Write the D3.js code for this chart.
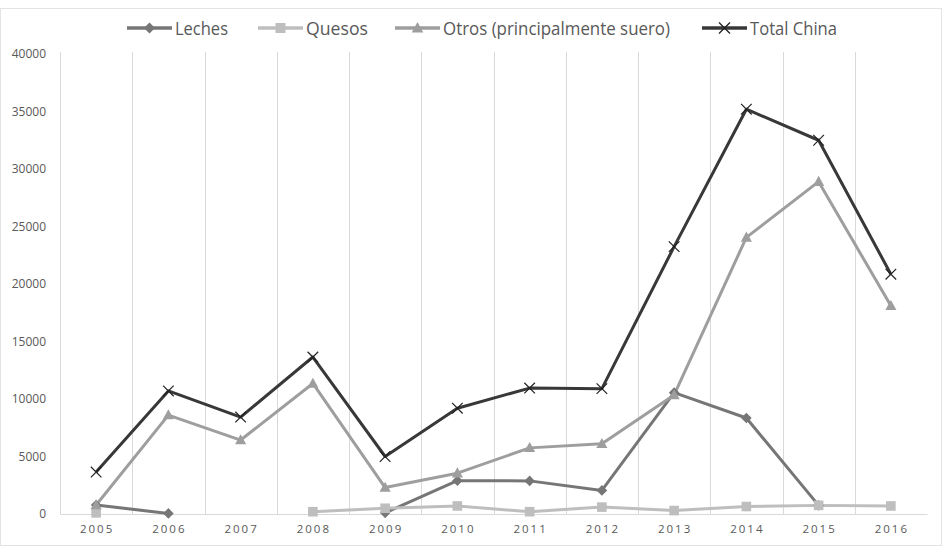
<!DOCTYPE html>
<html>
<head>
<meta charset="utf-8">
<script src="https://cdn.jsdelivr.net/npm/d3@7"></script>
<style>
  html, body { margin: 0; padding: 0; background: #fff; }
  svg { display: block; }
</style>
</head>
<body>
<svg id="chart" width="942" height="546"></svg>
<script>
const years = ["2005","2006","2007","2008","2009","2010","2011","2012","2013","2014","2015","2016"];
const leches = [780, 50, null, null, 100, 2900, 2880, 2050, 10550, 8350, 750, null];
const quesos = [100, null, null, 200, 500, 700, 200, 600, 300, 650, 750, 700];
const otros = [780, 8600, 6430, 11350, 2300, 3550, 5750, 6100, 10350, 24050, 28900, 18100];
const totalChina = [3650, 10700, 8430, 13650, 5000, 9200, 10950, 10900, 23250, 35200, 32500, 20850];
const yTicks = [0, 5000, 10000, 15000, 20000, 25000, 30000, 35000, 40000];
const seriesNames = ["Leches", "Quesos", "Otros (principalmente suero)", "Total China"];

const series = [
  { name: seriesNames[0], values: leches, color: "#767676", marker: "diamond" },
  { name: seriesNames[1], values: quesos, color: "#BEBEBE", marker: "square" },
  { name: seriesNames[2], values: otros, color: "#9E9E9E", marker: "triangle" },
  { name: seriesNames[3], values: totalChina, color: "#383838", marker: "x" }
];

const svg = d3.select("#chart");
const plotLeft = 60, plotRight = 927, plotTop = 54, plotBottom = 514;

// outer border
svg.append("rect").attr("x", 0.5).attr("y", 8.5).attr("width", 941).attr("height", 537)
  .attr("fill", "none").attr("stroke", "#e3e3e3").attr("stroke-width", 1);

const x = d3.scaleBand().domain(years).range([plotLeft, plotRight]);
const y = d3.scaleLinear().domain([0, 40000]).range([plotBottom, plotTop]);
const cx = d => x(d) + x.bandwidth() / 2;

// vertical gridlines at category boundaries
svg.append("g").selectAll("line").data(years).join("line")
  .attr("x1", d => Math.round(x(d)) + 0.5).attr("x2", d => Math.round(x(d)) + 0.5)
  .attr("y1", plotTop - 2).attr("y2", plotBottom)
  .attr("stroke", "#d9d9d9").attr("stroke-width", 1);

// y axis labels
const yAxis = d3.axisLeft(y).tickValues(yTicks).tickFormat(d3.format("d")).tickSize(0).tickPadding(14);
const gy = svg.append("g").attr("transform", `translate(${plotLeft},0)`).call(yAxis);
gy.select(".domain").remove();
gy.selectAll("text").attr("fill", "#595959").style("font-family", "'Open Sans', sans-serif").style("font-size", "12px");

// x axis
const xAxis = d3.axisBottom(x).tickSize(0).tickPadding(11);
const gx = svg.append("g").attr("transform", `translate(0,${plotBottom})`).call(xAxis);
gx.select(".domain").attr("stroke", "#d9d9d9").attr("stroke-width", 1.2);
gx.selectAll("text").attr("fill", "#595959").style("font-family", "'Open Sans', sans-serif")
  .style("font-size", "11.5px").style("letter-spacing", "2px").attr("dx", "1px");

// lines
const line = d3.line().defined(d => d.v != null).x(d => cx(d.year)).y(d => y(d.v));

function markerPath(type, size) {
  const s = size;
  if (type === "diamond") return `M0,${-s}L${s},0L0,${s}L${-s},0Z`;
  if (type === "square") return `M${-s},${-s}H${s}V${s}H${-s}Z`;
  if (type === "triangle") return `M0,${-s * 1.1}L${s * 1.05},${s * 0.8}H${-s * 1.05}Z`;
  return `M${-s},${-s}L${s},${s}M${s},${-s}L${-s},${s}`;
}

series.forEach(s => {
  const data = years.map((yr, i) => ({ year: yr, v: s.values[i] }));
  svg.append("path").datum(data).attr("d", line)
    .attr("fill", "none").attr("stroke", s.color).attr("stroke-width", 3)
    .attr("stroke-linejoin", "round");
});

series.forEach(s => {
  const data = years.map((yr, i) => ({ year: yr, v: s.values[i] })).filter(d => d.v != null);
  const g = svg.append("g");
  const size = s.marker === "square" ? 4.8 : 5.3;
  g.selectAll("path").data(data).join("path")
    .attr("transform", d => `translate(${cx(d.year)},${y(d.v)})`)
    .attr("d", markerPath(s.marker, size))
    .attr("fill", s.marker === "x" ? "none" : s.color)
    .attr("stroke", s.marker === "x" ? "#222" : "none")
    .attr("stroke-width", 1.2);
});

// legend
const legendX = [127, 258, 395, 702];
const legendW = [53, 62, 227, 87];
const legendY = 28;
const lg = svg.append("g");
series.forEach((s, i) => {
  const g = lg.append("g").attr("transform", `translate(${legendX[i]},${legendY})`);
  g.append("line").attr("x1", 0).attr("x2", 45).attr("y1", 0).attr("y2", 0)
    .attr("stroke", s.color).attr("stroke-width", 3.5);
  g.append("path").attr("transform", "translate(22.5,0)")
    .attr("d", markerPath(s.marker, s.marker === "square" ? 5 : 5.5))
    .attr("fill", s.marker === "x" ? "none" : s.color)
    .attr("stroke", s.marker === "x" ? "#222" : "none").attr("stroke-width", 1.3);
  g.append("text").attr("x", 48).attr("y", 1).attr("dy", "0.35em")
    .attr("fill", "#595959").style("font-family", "'Open Sans', sans-serif").style("font-size", "18px")
    .attr("textLength", legendW[i]).attr("lengthAdjust", "spacingAndGlyphs")
    .text(s.name);
});
</script>
</body>
</html>
